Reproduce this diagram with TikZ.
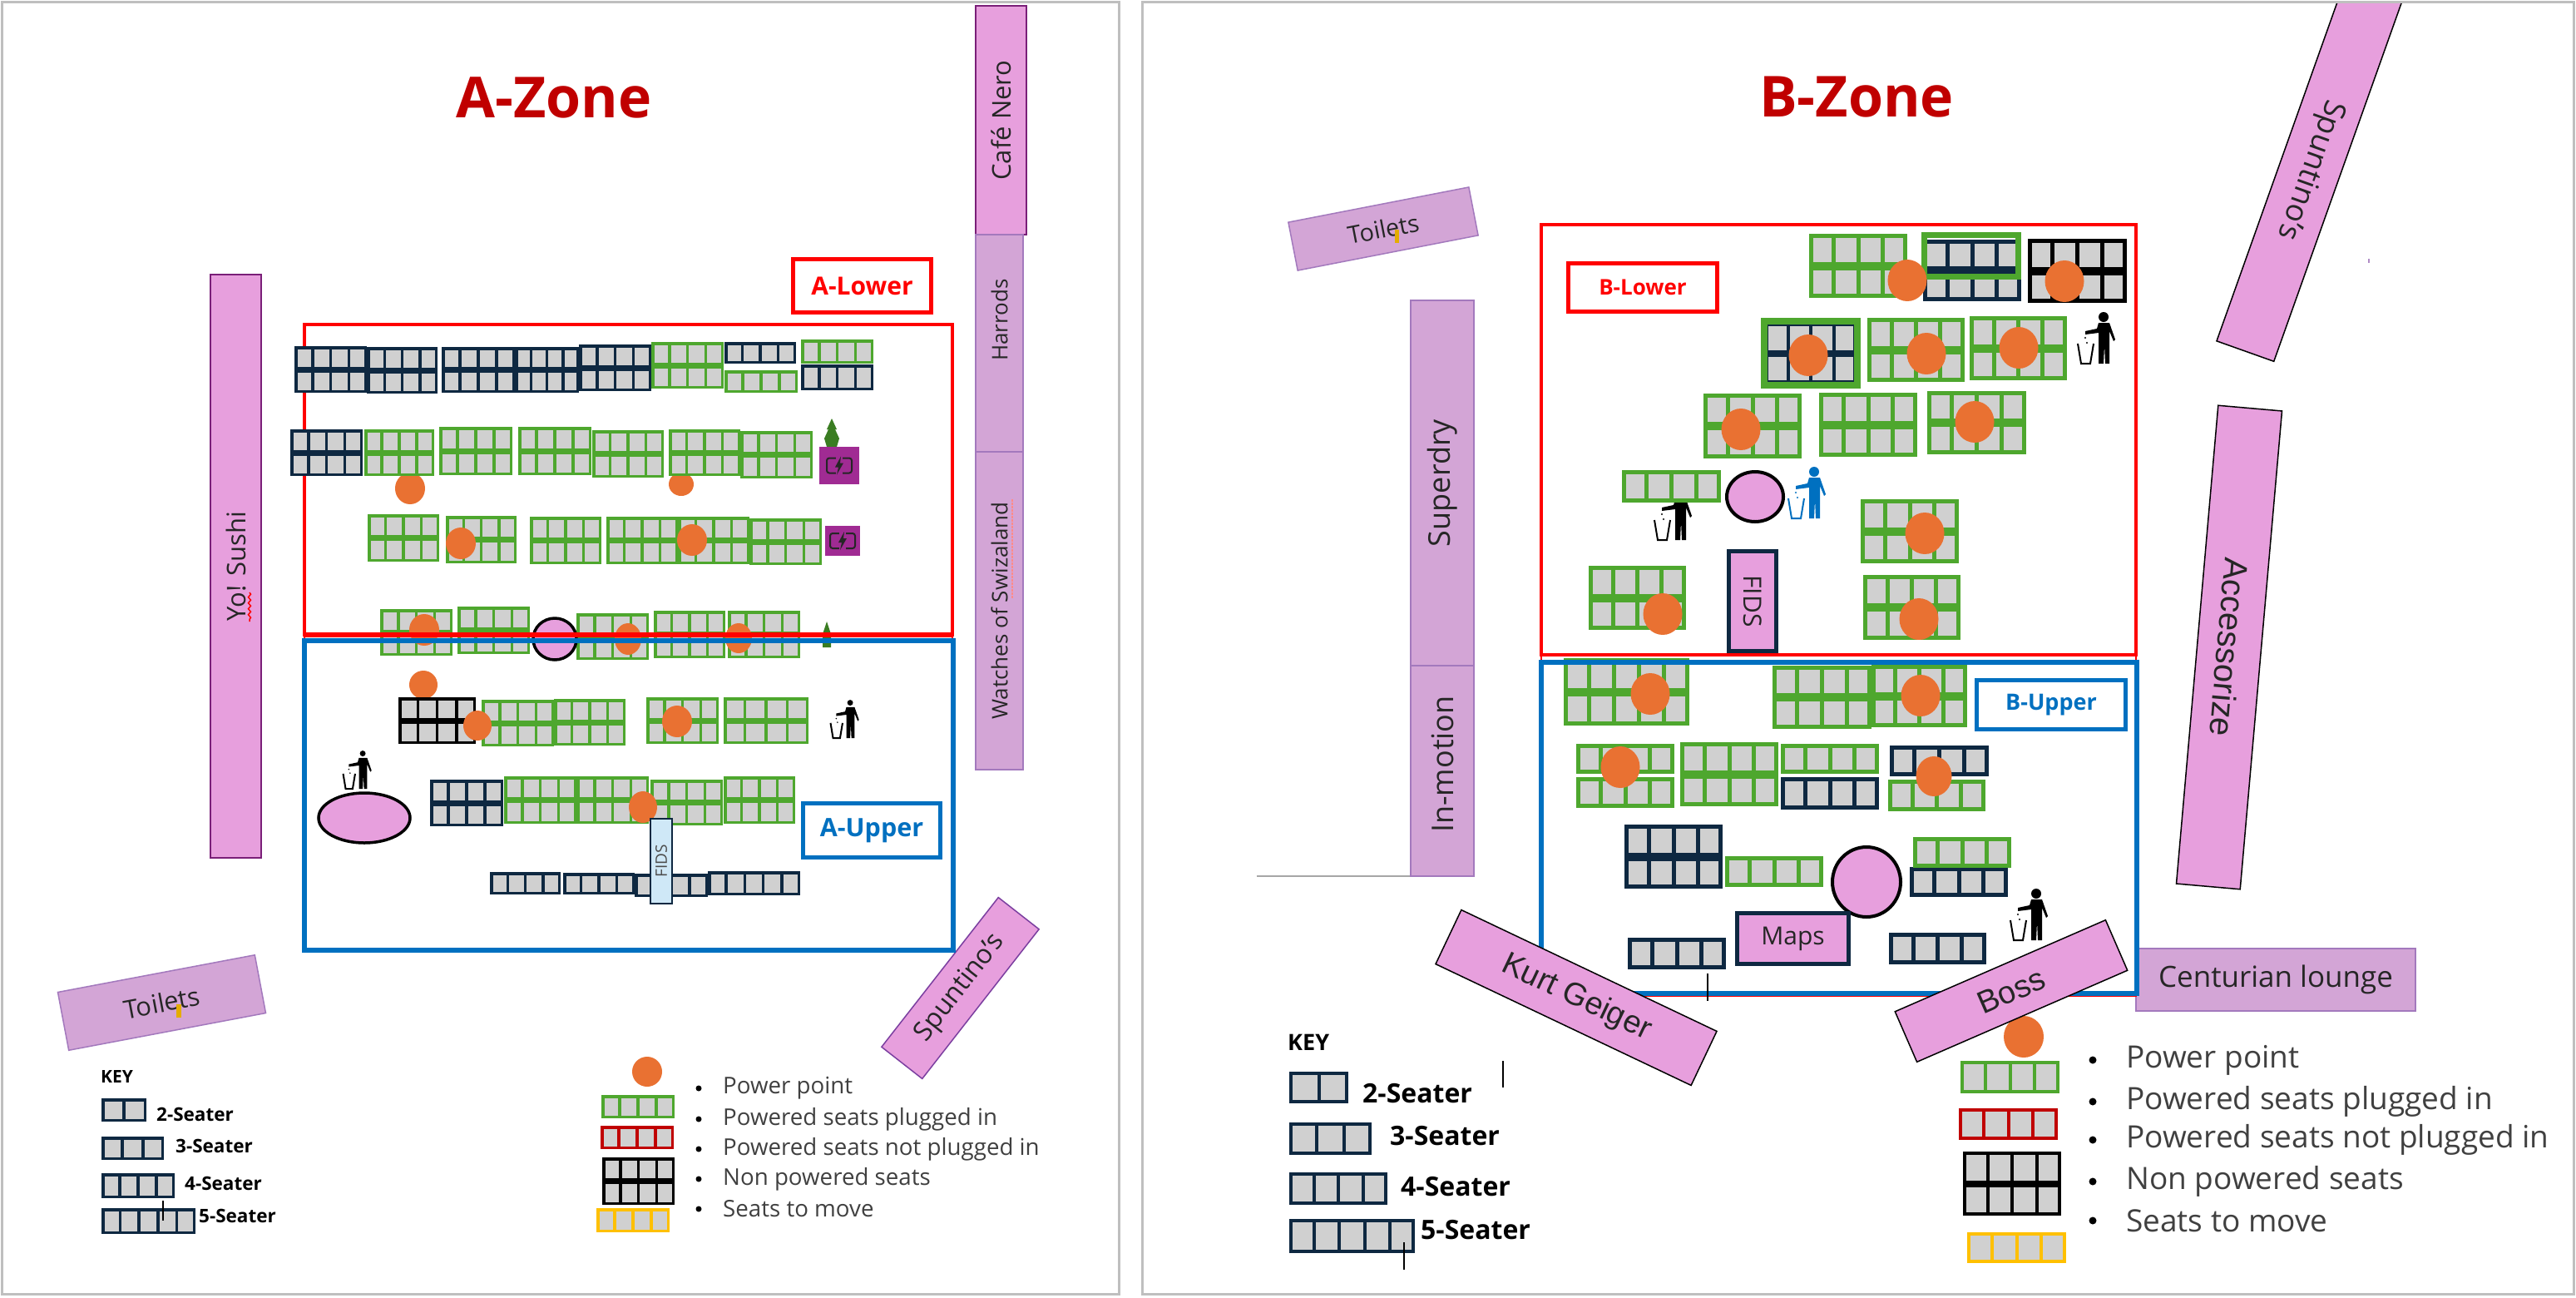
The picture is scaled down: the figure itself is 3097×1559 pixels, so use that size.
\documentclass[tikz,border=0pt]{standalone}
\usepackage{fontspec}
\usetikzlibrary{decorations.pathmorphing}
\setmainfont{Open Sans}
\newfontfamily\arialfont{Liberation Sans}
\definecolor{seatgrey}{HTML}{D0D0D0}
\definecolor{seatgreen}{HTML}{4EA72E}
\definecolor{seatnavy}{HTML}{0E2841}
\definecolor{seatred}{HTML}{C00000}
\definecolor{seatgold}{HTML}{FFC000}
\definecolor{plugorange}{HTML}{E97132}
\definecolor{storepink}{HTML}{E79FDD}
\definecolor{storelilac}{HTML}{D3A5D6}
\definecolor{storeline}{HTML}{7B3FA0}
\definecolor{storedark}{HTML}{7A1F78}
\definecolor{zoneblue}{HTML}{0070C0}
\definecolor{legendgrey}{HTML}{404040}
\definecolor{fidsblue}{HTML}{CFE8F7}
\definecolor{batterypurple}{HTML}{A02B93}
\newcommand\fsz[1]{\fontsize{#1}{#1}\selectfont}
\newcommand\seatblock[8][3.5]{
	\pgfmathtruncatemacro\lastcol{#3-1}
	\pgfmathsetmacro\colstep{(#7-#5)/#3}
	\fill[seatgrey](#5,#6)rectangle(#7,#8);
	\foreach \i in {1,...,\lastcol}
		\draw[#2,line width=#1pt](#5+\i*\colstep,#6)--(#5+\i*\colstep,#8);
	\ifnum#4=2
		\draw[#2,line width=2*#1pt](#5,#6/2+#8/2)--(#7,#6/2+#8/2);
	\fi
	\draw[#2,line width=#1pt](#5+#1/2,#6+#1/2)rectangle(#7-#1/2,#8-#1/2);
}
\newcommand\binman[4]{
	\begin{scope}[shift={(#1,#2)},scale=#3]
		\fill[#4](33,6)circle(6pt*#3);
		\fill[#4](27,13)--(40,13)--(47,33)--(45,35)--(40,23)--(40,62)--(35,62)--(34,40)--(33,62)--(27,62)--(27,25)--(11,27)--(11,23)--(25,20)--cycle;
		\draw[#4,line width=2pt](2,38)--(6,62)--(17,62)--(21,38);
		\fill[#4](11,31)circle(1.2pt)(13,37)circle(1.2pt);
	\end{scope}
}
\newcommand\batterybox[4]{
	\fill[batterypurple](#1,#2)rectangle(#3,#4);
	\begin{scope}[shift={(#1/2+#3/2,#2/2+#4/2)}]
		\draw[black!85,line width=2pt,rounded corners=3pt](-15,-9)rectangle(15,9);
		\fill[batterypurple](-4,-11)rectangle(4,11);
		\fill[black!85](2,-11)--(-5,2)--(-1,2)--(-3,11)--(5,-3)--(1,-3)--cycle;
	\end{scope}
}
\tikzset{
	storebox/.style={fill=storepink,draw=#1,line width=1.5pt,inner sep=0pt,text=black!85},
	storebox/.default=storeline,
	unitbox/.style={fill=storelilac,draw=storeline!70,line width=2.5pt,inner sep=0pt,text=black!85},
	zonetag/.style={draw=#1,fill=white,line width=5pt,text=#1,font=\bfseries,inner sep=0pt},
	ztitle/.style={text=seatred,font=\bfseries\fsz{68}},
	seatkey/.style={font=\bfseries,anchor=west,inner sep=0pt},
	legendtext/.style={text=legendgrey,anchor=west,inner sep=0pt}
}
\begin{document}
\begin{tikzpicture}[x=1pt,y=-1pt]
	\clip(0,0)rectangle(3097,1559);
	\fill[white](0,0)rectangle(3097,1559);
	\node[ztitle](zonea)at(666,117){A-Zone};
	\node[ztitle](zoneb)at(2232,117){B-Zone};

	\node[storebox=storedark,line width=2.5pt,minimum width=701pt,minimum height=61pt,rotate=90,font=\fsz{31}](yosushi)at(283.5,680.5){Yo! Sushi};
	\draw[red,line width=1.5pt,decorate,decoration={snake,amplitude=1.5pt,segment length=7pt}](300,712)--(300,747);
	\node[storebox=storedark,line width=2.5pt,minimum width=275pt,minimum height=61pt,rotate=90,font=\fsz{31}](cafenero)at(1203.5,144.5){Café Nero};
	\node[unitbox,minimum width=261pt,minimum height=57pt,rotate=90,font=\fsz{26}](harrods)at(1201.5,412.5){\hspace*{56pt}Harrods};
	\node[unitbox,minimum width=382pt,minimum height=57pt,rotate=90,font=\fsz{26}](watches)at(1201.5,734){Watches of Swizaland};
	\draw[red!45,line width=2pt,dashed,dash pattern=on 3pt off 1pt](1217,600)--(1217,719);
	\node[unitbox,line width=1.5pt,minimum width=241pt,minimum height=71pt,rotate=10.7,font=\fsz{31}](toiletsa)at(194.5,1205){Toilets};
	\fill[seatgold!90!black](212,1207)rectangle(218,1223);
	\node[storebox,minimum width=228pt,minimum height=62pt,rotate=52,font=\fsz{32}](spuntinoa)at(1154.5,1187.5){Spuntino's};

	\draw[red,line width=2pt](366,390)rectangle(1145,1141);
	\draw[red,line width=4pt](366,390)rectangle(1145,763);
	\fill[plugorange](493,587)ellipse(18pt and 19pt);
	\fill[plugorange](819,582)ellipse(15pt and 14pt);
	\fill[plugorange](509,823)ellipse(17pt and 17pt);
	\foreach \xa/\ya/\xb/\yb in {354/416/441/472,441/417/526/473,531/417/619/472,619/417/696/472,696/414/783/470,349/516/436/572}
		\seatblock{seatnavy}{4}{2}{\xa}{\ya}{\xb}{\yb};
	\foreach \xa/\ya/\xb/\yb in {871/411/957/437,963/438/1050/469}
		\seatblock{seatnavy}{4}{1}{\xa}{\ya}{\xb}{\yb};
	\foreach \xa/\ya/\xb/\yb in {871/445/959/472,963/408/1050/437}
		\seatblock{seatgreen}{4}{1}{\xa}{\ya}{\xb}{\yb};
	\foreach \xa/\ya/\xb/\yb in {783/411/870/467,438/516/522/572,528/513/616/571,623/513/711/571,712/517/798/574,804/516/890/572,890/518/977/575,442/618/528/675,536/620/621/677,637/621/723/678,729/621/815/678,815/621/901/678,901/623/988/679,457/732/544/788,550/729/637/786,693/737/780/793,786/734/872/791,875/734/962/791}
		\seatblock{seatgreen}{4}{2}{\xa}{\ya}{\xb}{\yb};
	\seatblock{black}{4}{2}{479}{838}{572}{894}
	\foreach \xa/\ya/\xb/\yb in {579/841/666/897,666/840/752/896,777/838/864/894,870/838/972/894,606/933/693/990,693/933/780/990,782/937/869/992,870/933/956/990}
		\seatblock{seatgreen}{4}{2}{\xa}{\ya}{\xb}{\yb};
	\seatblock{seatnavy}{4}{2}{517}{937}{605}{993}
	\foreach \xa/\ya/\xb/\yb in {589/1048/674/1075,677/1049/763/1075,763/1050/851/1078}
		\seatblock{seatnavy}{4}{1}{\xa}{\ya}{\xb}{\yb};
	\seatblock{seatnavy}{5}{1}{851}{1047}{962}{1076}
	\foreach \xc/\yc/\ra/\rb in {554/653/18/19,832/649/18/19,510/757/18/19,755/768/16/19,888/767/16/18,574/872/17/18,814/867/18/19,773/970/17/19}
		\fill[plugorange](\xc,\yc)ellipse(\ra pt and \rb pt);
	\draw[black,fill=storepink,line width=3.5pt](667,768)ellipse(26pt and 25pt);
	\draw[black,fill=storepink,line width=3.5pt](438,983)ellipse(55pt and 30pt);
	\node[draw=seatnavy,fill=fidsblue,line width=2.5pt,minimum width=102pt,minimum height=26pt,inner sep=0pt,rotate=90,font=\fsz{19},text=black!70](fidsa)at(795,1035){FIDS};
	\binman{997}{840}{0.76}{black}
	\binman{411}{901}{0.76}{black}
	\fill[seatgreen!75!black](1000,503)--(1006,516)--(1004,516)--(1009,527)--(1006,537)--(994,537)--(991,527)--(996,516)--(994,516)--cycle;
	\batterybox{985}{537}{1033}{582}
	\batterybox{992}{632}{1034}{668}
	\fill[seatgreen!75!black](994,747)--(999,762)--(999,778)--(989,778)--(989,762)--cycle;
	\draw[red,line width=6pt](365,763)--(1146,763);
	\draw[zoneblue,line width=6pt](366,770)rectangle(1146,1142);
	\node[zonetag=red,minimum width=166pt,minimum height=64pt,font=\bfseries\fsz{30}](alower)at(1036.5,343.5){A-Lower};
	\node[zonetag=zoneblue,minimum width=165pt,minimum height=65pt,font=\bfseries\fsz{30.5}](aupper)at(1048,998){A-Upper};

	\node[seatkey,font=\bfseries\fsz{21}](keya)at(121,1294){KEY};
	\seatblock{seatnavy}{2}{1}{122}{1320}{176}{1348}
	\seatblock{seatnavy}{3}{1}{122}{1366}{197}{1394}
	\seatblock{seatnavy}{4}{1}{122}{1410}{210}{1440}
	\seatblock{seatnavy}{5}{1}{122}{1452}{235}{1483}
	\node[seatkey,font=\bfseries\fsz{22.5}](twoa)at(188,1339){2-Seater};
	\node[seatkey,font=\bfseries\fsz{22.5}](threea)at(211,1377){3-Seater};
	\node[seatkey,font=\bfseries\fsz{22.5}](foura)at(222,1422){4-Seater};
	\node[seatkey,font=\bfseries\fsz{22.5}](fivea)at(239,1461){5-Seater};
	\draw[black,line width=1.5pt](196,1443)--(196,1467);
	\fill[plugorange](778,1288)ellipse(18pt and 18pt);
	\seatblock{seatgreen}{4}{1}{723}{1316}{811}{1344}
	\seatblock{seatred}{4}{1}{722}{1353}{810}{1381}
	\seatblock{black}{4}{2}{724}{1391}{811}{1448}
	\seatblock{seatgold}{4}{1}{717}{1452}{805}{1481}
	\foreach \yt/\lbl in {1308/Power point,1345/Powered seats plugged in,1381/Powered seats not plugged in,1417/Non powered seats,1453/Seats to move}{
		\fill[black](840,\yt)circle(3.5pt);
		\node[legendtext,font=\fsz{27.7}]at(869,\yt){\lbl};
	}

	\draw[black!35,line width=1.5pt](1511,1053)--(1696,1053);
	\node[unitbox,line width=1.5pt,minimum width=221pt,minimum height=59pt,rotate=11,font=\fsz{29}](toiletsb)at(1663,275){Toilets};
	\fill[seatgold!90!black](1677,276)rectangle(1682,292);
	\node[unitbox,line width=1.5pt,minimum width=439pt,minimum height=76pt,rotate=90,font=\fsz{36}](superdry)at(1734,580.5){Superdry};
	\node[unitbox,line width=1.5pt,minimum width=253pt,minimum height=76pt,rotate=90,font=\fsz{36}](inmotion)at(1734,926.5){\hspace*{16pt}In-motion};
	\node[storebox=black,minimum width=463pt,minimum height=73pt,rotate=-109.6,font=\fsz{36.5}](spuntinob)at(2777,204){Spuntino's};
	\fill[white](1380,0)rectangle(3097,4);
	\fill[storeline!60](2847,311)rectangle(2849,316);
	\node[storebox=black,minimum width=577pt,minimum height=77pt,rotate=-95,font=\arialfont\fsz{40}](accessorize)at(2680,778){Accessorize};
	\node[unitbox,line width=1.5pt,minimum width=336pt,minimum height=75pt,font=\fsz{35}](centurian)at(2736,1177.5){Centurian lounge};

	\draw[red,line width=2pt](1853,270)rectangle(2568,1197);
	\draw[red,line width=4pt](1853,270)rectangle(2568,787);
	\binman{1987}{587}{1}{black}
	\binman{2148}{561}{1}{zoneblue}
	\binman{2496}{375}{1}{black}
	\binman{2415}{1068}{1}{black}
	\seatblock[5]{black}{4}{2}{2438}{287}{2557}{364}
	\seatblock[5]{seatgreen}{4}{2}{2175}{281}{2293}{358}
	\seatblock[5]{seatnavy}{4}{2}{2312}{288}{2430}{362}
	\draw[seatgreen,line width=7pt](2313.5,282.5)rectangle(2426.5,332.5);
	\seatblock[4]{seatnavy}{4}{2}{2122}{388}{2232}{461}
	\draw[seatgreen,line width=8pt](2121,386)rectangle(2233,463);
	\foreach \xa/\ya/\xb/\yb in {2245/382/2362/459,2368/380/2485/457,2048/473/2166/551,2187/472/2305/549,2317/470/2436/546,2237/600/2355/677,1910/680/2027/757,2240/691/2357/769,2131/800/2250/876,2250/799/2365/874,2020/892/2138/969}
		\seatblock[5]{seatgreen}{4}{2}{\xa}{\ya}{\xb}{\yb};
	\seatblock[5]{seatgreen}{5}{2}{1880}{791}{2031}{872}
	\foreach \xa/\ya/\xb/\yb in {1950/565/2069/604,1895/894/2013/930,1895/934/2013/971,2141/894/2259/930,2270/937/2387/975,2074/1029/2192/1066}
		\seatblock[5]{seatgreen}{4}{1}{\xa}{\ya}{\xb}{\yb};
	\foreach \xa/\ya/\xb/\yb in {2141/934/2259/973,2272/896/2391/933,2296/1042/2414/1078,1957/1127/2075/1165,2271/1121/2388/1159}
		\seatblock[5]{seatnavy}{4}{1}{\xa}{\ya}{\xb}{\yb};
	\seatblock[5]{seatgreen}{4}{1}{2300}{1006}{2418}{1043}
	\seatblock[5]{seatnavy}{4}{2}{1953}{991}{2071}{1068}
	\foreach \xc/\yc in {2293/337,2482/338,2174/427,2316/425,2427/418,2093/516,2374/507,2314/641,1999/738,2307/744,1984/834,2309/836,1948/922}
		\fill[plugorange](\xc,\yc)ellipse(23.5pt and 25pt);
	\fill[plugorange](2325,933)ellipse(21.5pt and 24pt);
	\draw[black,fill=storepink,line width=4pt](2110,597)ellipse(34pt and 30pt);
	\draw[black,fill=storepink,line width=4pt](2244,1060)ellipse(41pt and 42pt);
	\node[draw=seatnavy,fill=storepink,line width=5pt,minimum width=120pt,minimum height=57pt,inner sep=0pt,rotate=-90,font=\fsz{30},text=black!85](fidsb)at(2107,722.5){FIDS};
	\node[draw=seatnavy,fill=storepink,line width=5pt,minimum width=134pt,minimum height=61pt,inner sep=0pt,font=\fsz{30},text=black!85](maps)at(2155.5,1128){Maps};
	\draw[red,line width=4pt](1852,787)--(2568,787);
	\draw[zoneblue,line width=6pt](1853,796)rectangle(2569,1194);
	\node[zonetag=red,minimum width=179pt,minimum height=58pt,font=\bfseries\fsz{26}](blower)at(1975,345.5){B-Lower};
	\node[zonetag=zoneblue,minimum width=179pt,minimum height=59pt,font=\bfseries\fsz{27}](bupper)at(2466,847){B-Upper};
	\draw[black,line width=2pt](2053,1170)--(2053,1203);

	\fill[plugorange](2433,1246)ellipse(24pt and 25pt);
	\node[storebox=black,minimum width=340pt,minimum height=72pt,rotate=-25.4,font=\arialfont\fsz{38}](kurtgeiger)at(1895,1199){Kurt Geiger};
	\node[storebox=black,minimum width=276pt,minimum height=66pt,rotate=23.5,font=\arialfont\fsz{38}](boss)at(2418,1191){Boss};

	\node[seatkey,font=\bfseries\fsz{27}](keyb)at(1548,1253){KEY};
	\seatblock[4]{seatnavy}{2}{1}{1550}{1288}{1621}{1326}
	\seatblock[4]{seatnavy}{3}{1}{1550}{1349}{1649}{1388}
	\seatblock[4]{seatnavy}{4}{1}{1550}{1409}{1668}{1448}
	\seatblock[4]{seatnavy}{5}{1}{1550}{1465}{1701}{1506}
	\node[seatkey,font=\bfseries\fsz{32}](twob)at(1638,1314){2-Seater};
	\node[seatkey,font=\bfseries\fsz{32}](threeb)at(1671,1365){3-Seater};
	\node[seatkey,font=\bfseries\fsz{32}](fourb)at(1684,1426){4-Seater};
	\node[seatkey,font=\bfseries\fsz{32}](fiveb)at(1708,1478){5-Seater};
	\draw[black,line width=2pt](1688,1493)--(1688,1526);
	\draw[black,line width=2pt](1807,1275)--(1807,1307);
	\seatblock[4]{seatgreen}{4}{1}{2357}{1275}{2476}{1314}
	\seatblock[4]{seatred}{4}{1}{2355}{1332}{2474}{1370}
	\seatblock[4]{black}{4}{2}{2360}{1384}{2478}{1461}
	\seatblock[4]{seatgold}{4}{1}{2365}{1481}{2484}{1518}
	\foreach \yt/\lbl in {1274/Power point,1324/Powered seats plugged in,1370/Powered seats not plugged in,1420/Non powered seats,1467/Seats to move}{
		\fill[black](2516,\yt)circle(4.5pt);
		\node[legendtext,font=\fsz{37}]at(2556,\yt){\lbl};
	}
	\draw[black!25,line width=3pt](2,2)rectangle(1345,1555);
	\draw[black!25,line width=3pt](1373,2)rectangle(3094,1555);
\end{tikzpicture}
\end{document}
